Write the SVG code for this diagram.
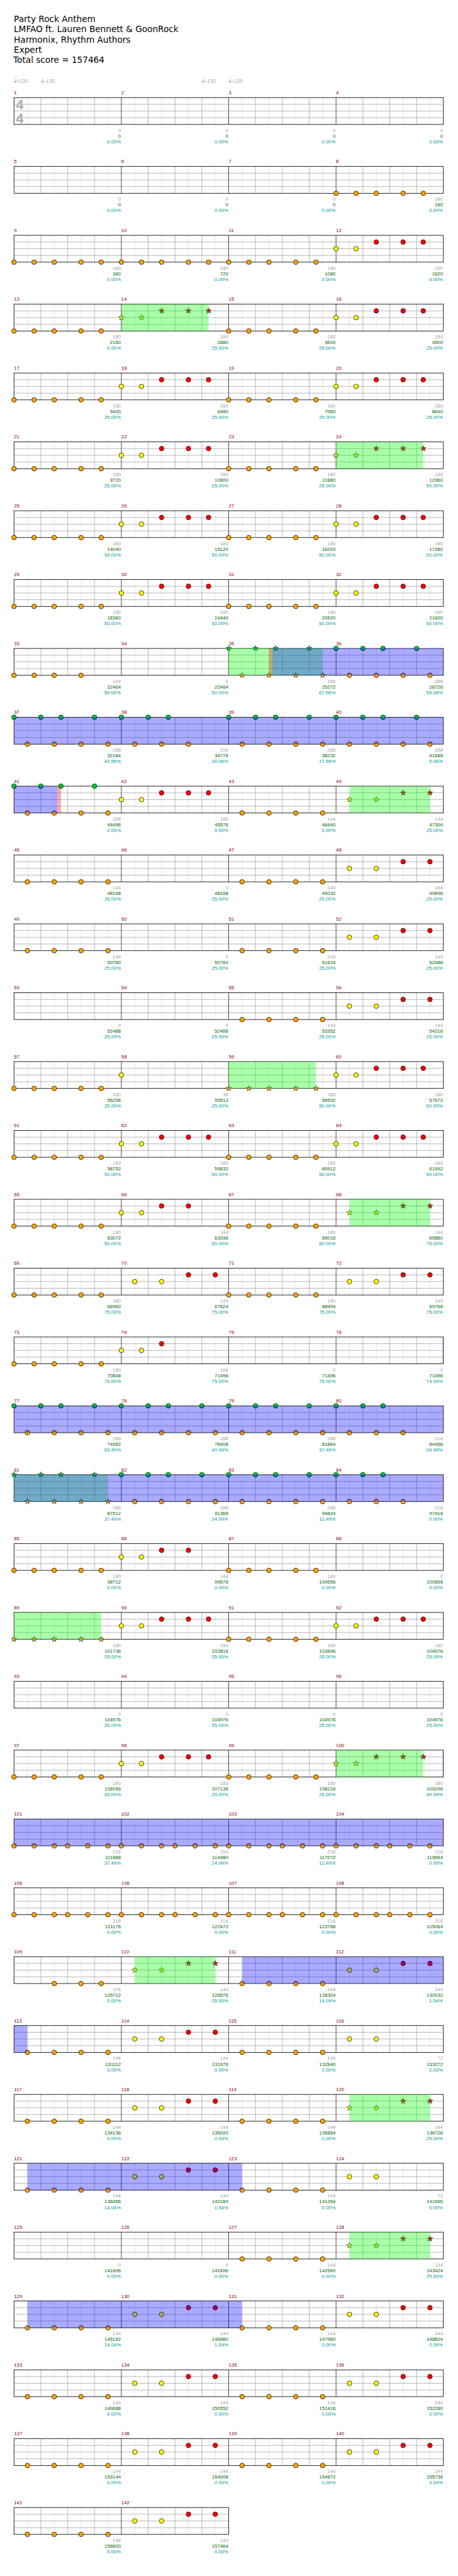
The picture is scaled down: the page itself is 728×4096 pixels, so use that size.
<svg xmlns="http://www.w3.org/2000/svg" xmlns:xlink="http://www.w3.org/1999/xlink" width="728" height="4096" viewBox="0 0 728 4096">
<style>
text{font-family:"Liberation Sans",Arial,sans-serif;font-size:11px}
.t{font-family:"DejaVu Sans",sans-serif;font-size:19.2px;fill:#000}
.mn{fill:#8b0000}
.a{fill:#a0a0a0;text-anchor:end}
.b{fill:#006400;text-anchor:end}
.c{fill:#009999;text-anchor:end}
.tm{fill:#aaa;font-size:11.5px}
.ts{fill:#aaa;font-size:30px;font-weight:bold}
.og{fill:#0f0;fill-opacity:.333}
.ob{fill:#00f;fill-opacity:.333}
.or{fill:#f00;fill-opacity:.333}
</style>
<defs>
<g id="m"><path d="M30,0V60M90,0V60M150,0V60M210,0V60" stroke="#ddd"/><path d="M0,15H240M0,30H240M0,45H240M60,0V60M120,0V60M180,0V60" stroke="#999"/></g>
<g id="s4"><use href="#m"/><use href="#m" x="240"/><use href="#m" x="480"/><use href="#m" x="720"/><path d="M240,0V60M480,0V60M720,0V60" stroke="#000"/><rect width="960" height="60" fill="none" stroke="#000" stroke-width="1.2"/></g>
<g id="s2"><use href="#m"/><use href="#m" x="240"/><path d="M240,0V60" stroke="#000"/><rect width="480" height="60" fill="none" stroke="#000" stroke-width="1.2"/></g>
<circle id="nk" r="5.2" fill="#ffa500" stroke="#000"/>
<circle id="ny" r="5.2" fill="#ffff00" stroke="#000"/>
<circle id="nr" r="5.2" fill="#ff0000" stroke="#000"/>
<circle id="ng" r="5.2" fill="#00cc33" stroke="#000"/>
<path id="st" d="M0,-6.5L1.53,-2.1 6.18,-2.01 2.47,0.8 3.82,5.26 0,2.6 -3.82,5.26 -2.47,0.8 -6.18,-2.01 -1.53,-2.1Z" stroke="#000" stroke-width="0.8"/>
<use id="sk" href="#st" fill="#ffa500"/>
<use id="sy" href="#st" fill="#ffff00"/>
<use id="sr" href="#st" fill="#ff0000"/>
<use id="sg" href="#st" fill="#00cc33"/>
<g id="pA"><use href="#nk" y="60"/><use href="#nk" x="45" y="60"/><use href="#nk" x="90" y="60"/><use href="#nk" x="150" y="60"/><use href="#nk" x="195" y="60"/></g>
<g id="pA4"><use href="#nk" y="60"/><use href="#nk" x="45" y="60"/><use href="#nk" x="90" y="60"/><use href="#nk" x="150" y="60"/></g>
<g id="pAs"><use href="#sk" y="60"/><use href="#sk" x="45" y="60"/><use href="#sk" x="90" y="60"/><use href="#sk" x="150" y="60"/><use href="#sk" x="195" y="60"/></g>
<g id="pB"><use href="#ny" y="30"/><use href="#ny" x="45" y="30"/><use href="#nr" x="90" y="15"/><use href="#nr" x="150" y="15"/><use href="#nr" x="195" y="15"/></g>
<g id="pB4"><use href="#ny" y="30"/><use href="#ny" x="45" y="30"/><use href="#nr" x="90" y="15"/><use href="#nr" x="150" y="15"/></g>
<g id="pB3"><use href="#ny" y="30"/><use href="#ny" x="45" y="30"/><use href="#nr" x="90" y="15"/></g>
<g id="pBs"><use href="#sy" y="30"/><use href="#sy" x="45" y="30"/><use href="#sr" x="90" y="15"/><use href="#sr" x="150" y="15"/><use href="#sr" x="195" y="15"/></g>
<g id="pC"><use href="#nk" x="30" y="60"/><use href="#nk" x="90" y="60"/><use href="#nk" x="150" y="60"/><use href="#nk" x="210" y="60"/></g>
<g id="pC3"><use href="#nk" x="90" y="60"/><use href="#nk" x="150" y="60"/><use href="#nk" x="195" y="60"/></g>
<g id="pD"><use href="#ny" x="30" y="30"/><use href="#ny" x="90" y="30"/><use href="#nr" x="150" y="15"/><use href="#nr" x="210" y="15"/></g>
<g id="pD2"><use href="#ny" x="30" y="30"/><use href="#ny" x="90" y="30"/></g>
<g id="pDs"><use href="#sy" x="30" y="30"/><use href="#sy" x="90" y="30"/><use href="#sr" x="150" y="15"/><use href="#sr" x="210" y="15"/></g>
<g id="pE"><use href="#nk" y="60"/><use href="#nk" x="45" y="60"/><use href="#nk" x="90" y="60"/><use href="#nk" x="120" y="60"/><use href="#nk" x="165" y="60"/><use href="#nk" x="210" y="60"/></g>
<g id="pF"><use href="#ng"/><use href="#ng" x="60"/><use href="#ng" x="105"/><use href="#ng" x="180"/><use href="#nk" x="30" y="60"/><use href="#nk" x="90" y="60"/><use href="#nk" x="150" y="60"/><use href="#nk" x="210" y="60"/></g>
<g id="pF3"><use href="#ng"/><use href="#ng" x="60"/><use href="#ng" x="105"/><use href="#nk" x="30" y="60"/><use href="#nk" x="90" y="60"/><use href="#nk" x="150" y="60"/></g>
<g id="pFs"><use href="#sg"/><use href="#sg" x="60"/><use href="#sg" x="105"/><use href="#sg" x="180"/><use href="#sk" x="30" y="60"/><use href="#sk" x="90" y="60"/><use href="#sk" x="150" y="60"/><use href="#sk" x="210" y="60"/></g>
<g id="tempo"><ellipse cx="2.4" cy="-35.4" rx="2.4" ry="1.8" fill="#aaa"/><path d="M4.4,-35.4V-44.5" stroke="#aaa"/><text class="tm" x="5" y="-33.2">=130</text></g>
</defs>
<rect width="728" height="4096" fill="#fff"/>
<g transform="scale(0.7109375)">
<g id="header">
<text class="t" x="31" y="49.3">Party Rock Anthem</text>
<text class="t" x="31" y="72">LMFAO ft. Lauren Bennett &amp; GoonRock</text>
<text class="t" x="31" y="95">Harmonix, Rhythm Authors</text>
<text class="t" x="31" y="118">Expert</text>
<text class="t" x="29.7" y="141">Total score = 157464</text>
</g>

<g id="r0" transform="translate(31.3,218.3)"><use href="#s4"/>
<text class="ts" x="4.7" y="26">4</text><text class="ts" x="4.7" y="57">4</text>
<use href="#tempo"/><use href="#tempo" x="60"/><use href="#tempo" x="420"/><use href="#tempo" x="480"/>
<text class="mn" y="-7.3"><tspan x="0">1</tspan><tspan x="240">2</tspan><tspan x="480">3</tspan><tspan x="720">4</tspan></text>
<text class="a" y="77"><tspan x="239">0</tspan><tspan x="479">0</tspan><tspan x="719">0</tspan><tspan x="959">0</tspan></text>
<text class="b" y="89.7"><tspan x="239">0</tspan><tspan x="479">0</tspan><tspan x="719">0</tspan><tspan x="959">0</tspan></text>
<text class="c" y="102.4"><tspan x="239">0.00%</tspan><tspan x="479">0.00%</tspan><tspan x="719">0.00%</tspan><tspan x="959">0.00%</tspan></text>
</g>

<g id="r1" transform="translate(31.3,372.3)"><use href="#s4"/>
<use href="#pA" x="720"/>
<text class="mn" y="-7.3"><tspan x="0">5</tspan><tspan x="240">6</tspan><tspan x="480">7</tspan><tspan x="720">8</tspan></text>
<text class="a" y="77"><tspan x="239">0</tspan><tspan x="479">0</tspan><tspan x="719">0</tspan><tspan x="959">180</tspan></text>
<text class="b" y="89.7"><tspan x="239">0</tspan><tspan x="479">0</tspan><tspan x="719">0</tspan><tspan x="959">180</tspan></text>
<text class="c" y="102.4"><tspan x="239">0.00%</tspan><tspan x="479">0.00%</tspan><tspan x="719">0.00%</tspan><tspan x="959">0.00%</tspan></text>
</g>

<g id="r2" transform="translate(31.3,526.3)"><use href="#s4"/>
<use href="#pA"/><use href="#pA" x="240"/><use href="#pA" x="480"/><use href="#pB" x="720"/>
<text class="mn" y="-7.3"><tspan x="0">9</tspan><tspan x="240">10</tspan><tspan x="480">11</tspan><tspan x="720">12</tspan></text>
<text class="a" y="77"><tspan x="239">180</tspan><tspan x="479">180</tspan><tspan x="719">180</tspan><tspan x="959">180</tspan></text>
<text class="b" y="89.7"><tspan x="239">360</tspan><tspan x="479">720</tspan><tspan x="719">1080</tspan><tspan x="959">1620</tspan></text>
<text class="c" y="102.4"><tspan x="239">0.00%</tspan><tspan x="479">0.00%</tspan><tspan x="719">0.00%</tspan><tspan x="959">0.00%</tspan></text>
</g>

<g id="r3" transform="translate(31.3,680.3)"><use href="#s4"/>
<use href="#pA"/><use href="#pBs" x="240"/><use href="#pA" x="480"/><use href="#pB" x="720"/>
<rect class="og" x="240" width="195" height="60"/>
<text class="mn" y="-7.3"><tspan x="0">13</tspan><tspan x="240">14</tspan><tspan x="480">15</tspan><tspan x="720">16</tspan></text>
<text class="a" y="77"><tspan x="239">180</tspan><tspan x="479">180</tspan><tspan x="719">180</tspan><tspan x="959">180</tspan></text>
<text class="b" y="89.7"><tspan x="239">2160</tspan><tspan x="479">2880</tspan><tspan x="719">3600</tspan><tspan x="959">4500</tspan></text>
<text class="c" y="102.4"><tspan x="239">0.00%</tspan><tspan x="479">25.00%</tspan><tspan x="719">25.00%</tspan><tspan x="959">25.00%</tspan></text>
</g>

<g id="r4" transform="translate(31.3,834.3)"><use href="#s4"/>
<use href="#pA"/><use href="#pB" x="240"/><use href="#pA" x="480"/><use href="#pB" x="720"/>
<text class="mn" y="-7.3"><tspan x="0">17</tspan><tspan x="240">18</tspan><tspan x="480">19</tspan><tspan x="720">20</tspan></text>
<text class="a" y="77"><tspan x="239">180</tspan><tspan x="479">180</tspan><tspan x="719">180</tspan><tspan x="959">180</tspan></text>
<text class="b" y="89.7"><tspan x="239">5400</tspan><tspan x="479">6480</tspan><tspan x="719">7560</tspan><tspan x="959">8640</tspan></text>
<text class="c" y="102.4"><tspan x="239">25.00%</tspan><tspan x="479">25.00%</tspan><tspan x="719">25.00%</tspan><tspan x="959">25.00%</tspan></text>
</g>

<g id="r5" transform="translate(31.3,988.3)"><use href="#s4"/>
<use href="#pA"/><use href="#pB" x="240"/><use href="#pA" x="480"/><use href="#pBs" x="720"/>
<rect class="og" x="720" width="195" height="60"/>
<text class="mn" y="-7.3"><tspan x="0">21</tspan><tspan x="240">22</tspan><tspan x="480">23</tspan><tspan x="720">24</tspan></text>
<text class="a" y="77"><tspan x="239">180</tspan><tspan x="479">180</tspan><tspan x="719">180</tspan><tspan x="959">180</tspan></text>
<text class="b" y="89.7"><tspan x="239">9720</tspan><tspan x="479">10800</tspan><tspan x="719">11880</tspan><tspan x="959">12960</tspan></text>
<text class="c" y="102.4"><tspan x="239">25.00%</tspan><tspan x="479">25.00%</tspan><tspan x="719">25.00%</tspan><tspan x="959">50.00%</tspan></text>
</g>

<g id="r6" transform="translate(31.3,1142.3)"><use href="#s4"/>
<use href="#pA"/><use href="#pB" x="240"/><use href="#pA" x="480"/><use href="#pB" x="720"/>
<text class="mn" y="-7.3"><tspan x="0">25</tspan><tspan x="240">26</tspan><tspan x="480">27</tspan><tspan x="720">28</tspan></text>
<text class="a" y="77"><tspan x="239">180</tspan><tspan x="479">180</tspan><tspan x="719">180</tspan><tspan x="959">180</tspan></text>
<text class="b" y="89.7"><tspan x="239">14040</tspan><tspan x="479">15120</tspan><tspan x="719">16200</tspan><tspan x="959">17280</tspan></text>
<text class="c" y="102.4"><tspan x="239">50.00%</tspan><tspan x="479">50.00%</tspan><tspan x="719">50.00%</tspan><tspan x="959">50.00%</tspan></text>
</g>

<g id="r7" transform="translate(31.3,1296.3)"><use href="#s4"/>
<use href="#pA"/><use href="#pB" x="240"/><use href="#pA" x="480"/><use href="#pB" x="720"/>
<text class="mn" y="-7.3"><tspan x="0">29</tspan><tspan x="240">30</tspan><tspan x="480">31</tspan><tspan x="720">32</tspan></text>
<text class="a" y="77"><tspan x="239">180</tspan><tspan x="479">180</tspan><tspan x="719">180</tspan><tspan x="959">180</tspan></text>
<text class="b" y="89.7"><tspan x="239">18360</tspan><tspan x="479">19440</tspan><tspan x="719">20520</tspan><tspan x="959">21600</tspan></text>
<text class="c" y="102.4"><tspan x="239">50.00%</tspan><tspan x="479">50.00%</tspan><tspan x="719">50.00%</tspan><tspan x="959">50.00%</tspan></text>
</g>

<g id="r8" transform="translate(31.3,1450.3)"><use href="#s4"/>
<use href="#pA4"/><use href="#pFs" x="480"/><use href="#pF" x="720"/>
<rect class="og" x="480" width="210" height="60"/><rect class="or" x="570" width="7.5" height="60"/><rect class="ob" x="577.5" width="382.5" height="60"/>
<text class="mn" y="-7.3"><tspan x="0">33</tspan><tspan x="240">34</tspan><tspan x="480">35</tspan><tspan x="720">36</tspan></text>
<text class="a" y="77"><tspan x="239">144</tspan><tspan x="479">0</tspan><tspan x="719">288</tspan><tspan x="959">288</tspan></text>
<text class="b" y="89.7"><tspan x="239">22464</tspan><tspan x="479">22464</tspan><tspan x="719">25272</tspan><tspan x="959">28728</tspan></text>
<text class="c" y="102.4"><tspan x="239">50.00%</tspan><tspan x="479">50.00%</tspan><tspan x="719">67.56%</tspan><tspan x="959">55.06%</tspan></text>
</g>

<g id="r9" transform="translate(31.3,1604.3)"><use href="#s4"/>
<use href="#pF"/><use href="#pF3" x="240"/><use href="#pF" x="480"/><use href="#pF" x="720"/>
<rect class="ob" width="960" height="60"/>
<text class="mn" y="-7.3"><tspan x="0">37</tspan><tspan x="240">38</tspan><tspan x="480">39</tspan><tspan x="720">40</tspan></text>
<text class="a" y="77"><tspan x="239">288</tspan><tspan x="479">216</tspan><tspan x="719">288</tspan><tspan x="959">288</tspan></text>
<text class="b" y="89.7"><tspan x="239">32184</tspan><tspan x="479">34776</tspan><tspan x="719">38232</tspan><tspan x="959">41688</tspan></text>
<text class="c" y="102.4"><tspan x="239">42.56%</tspan><tspan x="479">30.06%</tspan><tspan x="719">17.56%</tspan><tspan x="959">5.06%</tspan></text>
</g>

<g id="r10" transform="translate(31.3,1758.3)"><use href="#s4"/>
<use href="#pF"/><use href="#pB" x="240"/><use href="#pC" x="480"/><use href="#pDs" x="720"/>
<rect class="ob" width="97.5" height="60"/><rect class="or" x="97.5" width="7.5" height="60"/><rect class="og" x="750" width="180" height="60"/>
<text class="mn" y="-7.3"><tspan x="0">41</tspan><tspan x="240">42</tspan><tspan x="480">43</tspan><tspan x="720">44</tspan></text>
<text class="a" y="77"><tspan x="239">288</tspan><tspan x="479">180</tspan><tspan x="719">144</tspan><tspan x="959">144</tspan></text>
<text class="b" y="89.7"><tspan x="239">44496</tspan><tspan x="479">45576</tspan><tspan x="719">46440</tspan><tspan x="959">47304</tspan></text>
<text class="c" y="102.4"><tspan x="239">0.00%</tspan><tspan x="479">0.00%</tspan><tspan x="719">0.00%</tspan><tspan x="959">25.00%</tspan></text>
</g>

<g id="r11" transform="translate(31.3,1912.3)"><use href="#s4"/>
<use href="#pC"/><use href="#pC" x="480"/><use href="#pD" x="720"/>
<text class="mn" y="-7.3"><tspan x="0">45</tspan><tspan x="240">46</tspan><tspan x="480">47</tspan><tspan x="720">48</tspan></text>
<text class="a" y="77"><tspan x="239">144</tspan><tspan x="479">0</tspan><tspan x="719">144</tspan><tspan x="959">144</tspan></text>
<text class="b" y="89.7"><tspan x="239">48168</tspan><tspan x="479">48168</tspan><tspan x="719">49032</tspan><tspan x="959">49896</tspan></text>
<text class="c" y="102.4"><tspan x="239">25.00%</tspan><tspan x="479">25.00%</tspan><tspan x="719">25.00%</tspan><tspan x="959">25.00%</tspan></text>
</g>

<g id="r12" transform="translate(31.3,2066.3)"><use href="#s4"/>
<use href="#pC"/><use href="#pC" x="480"/><use href="#pD" x="720"/>
<text class="mn" y="-7.3"><tspan x="0">49</tspan><tspan x="240">50</tspan><tspan x="480">51</tspan><tspan x="720">52</tspan></text>
<text class="a" y="77"><tspan x="239">144</tspan><tspan x="479">0</tspan><tspan x="719">144</tspan><tspan x="959">144</tspan></text>
<text class="b" y="89.7"><tspan x="239">50760</tspan><tspan x="479">50760</tspan><tspan x="719">51624</tspan><tspan x="959">52488</tspan></text>
<text class="c" y="102.4"><tspan x="239">25.00%</tspan><tspan x="479">25.00%</tspan><tspan x="719">25.00%</tspan><tspan x="959">25.00%</tspan></text>
</g>

<g id="r13" transform="translate(31.3,2220.3)"><use href="#s4"/>
<use href="#pC" x="480"/><use href="#pD" x="720"/>
<text class="mn" y="-7.3"><tspan x="0">53</tspan><tspan x="240">54</tspan><tspan x="480">55</tspan><tspan x="720">56</tspan></text>
<text class="a" y="77"><tspan x="239">0</tspan><tspan x="479">0</tspan><tspan x="719">144</tspan><tspan x="959">144</tspan></text>
<text class="b" y="89.7"><tspan x="239">52488</tspan><tspan x="479">52488</tspan><tspan x="719">53352</tspan><tspan x="959">54216</tspan></text>
<text class="c" y="102.4"><tspan x="239">25.00%</tspan><tspan x="479">25.00%</tspan><tspan x="719">25.00%</tspan><tspan x="959">25.00%</tspan></text>
</g>

<g id="r14" transform="translate(31.3,2374.3)"><use href="#s4"/>
<use href="#pA"/><use href="#ny" x="240" y="30"/><use href="#pAs" x="480"/><use href="#pB" x="720"/>
<rect class="og" x="480" width="195" height="60"/>
<text class="mn" y="-7.3"><tspan x="0">57</tspan><tspan x="240">58</tspan><tspan x="480">59</tspan><tspan x="720">60</tspan></text>
<text class="a" y="77"><tspan x="239">180</tspan><tspan x="479">36</tspan><tspan x="719">180</tspan><tspan x="959">180</tspan></text>
<text class="b" y="89.7"><tspan x="239">55296</tspan><tspan x="479">55512</tspan><tspan x="719">56592</tspan><tspan x="959">57672</tspan></text>
<text class="c" y="102.4"><tspan x="239">25.00%</tspan><tspan x="479">25.00%</tspan><tspan x="719">50.00%</tspan><tspan x="959">50.00%</tspan></text>
</g>

<g id="r15" transform="translate(31.3,2528.3)"><use href="#s4"/>
<use href="#pA"/><use href="#pB" x="240"/><use href="#pA" x="480"/><use href="#pB" x="720"/>
<text class="mn" y="-7.3"><tspan x="0">61</tspan><tspan x="240">62</tspan><tspan x="480">63</tspan><tspan x="720">64</tspan></text>
<text class="a" y="77"><tspan x="239">180</tspan><tspan x="479">180</tspan><tspan x="719">180</tspan><tspan x="959">180</tspan></text>
<text class="b" y="89.7"><tspan x="239">58752</tspan><tspan x="479">59832</tspan><tspan x="719">60912</tspan><tspan x="959">61992</tspan></text>
<text class="c" y="102.4"><tspan x="239">50.00%</tspan><tspan x="479">50.00%</tspan><tspan x="719">50.00%</tspan><tspan x="959">50.00%</tspan></text>
</g>

<g id="r16" transform="translate(31.3,2682.3)"><use href="#s4"/>
<use href="#pA"/><use href="#pB4" x="240"/><use href="#pA" x="480"/><use href="#pDs" x="720"/>
<rect class="og" x="750" width="180" height="60"/>
<text class="mn" y="-7.3"><tspan x="0">65</tspan><tspan x="240">66</tspan><tspan x="480">67</tspan><tspan x="720">68</tspan></text>
<text class="a" y="77"><tspan x="239">180</tspan><tspan x="479">144</tspan><tspan x="719">180</tspan><tspan x="959">144</tspan></text>
<text class="b" y="89.7"><tspan x="239">63072</tspan><tspan x="479">63936</tspan><tspan x="719">65016</tspan><tspan x="959">65880</tspan></text>
<text class="c" y="102.4"><tspan x="239">50.00%</tspan><tspan x="479">50.00%</tspan><tspan x="719">50.00%</tspan><tspan x="959">75.00%</tspan></text>
</g>

<g id="r17" transform="translate(31.3,2836.3)"><use href="#s4"/>
<use href="#pA"/><use href="#pD" x="240"/><use href="#pA" x="480"/><use href="#pD" x="720"/>
<text class="mn" y="-7.3"><tspan x="0">69</tspan><tspan x="240">70</tspan><tspan x="480">71</tspan><tspan x="720">72</tspan></text>
<text class="a" y="77"><tspan x="239">180</tspan><tspan x="479">144</tspan><tspan x="719">180</tspan><tspan x="959">144</tspan></text>
<text class="b" y="89.7"><tspan x="239">66960</tspan><tspan x="479">67824</tspan><tspan x="719">68904</tspan><tspan x="959">69768</tspan></text>
<text class="c" y="102.4"><tspan x="239">75.00%</tspan><tspan x="479">75.00%</tspan><tspan x="719">75.00%</tspan><tspan x="959">75.00%</tspan></text>
</g>

<g id="r18" transform="translate(31.3,2990.3)"><use href="#s4"/>
<use href="#pA"/><use href="#pB3" x="240"/>
<rect class="ob" x="958.5" width="1.5" height="60"/>
<text class="mn" y="-7.3"><tspan x="0">73</tspan><tspan x="240">74</tspan><tspan x="480">75</tspan><tspan x="720">76</tspan></text>
<text class="a" y="77"><tspan x="239">180</tspan><tspan x="479">108</tspan><tspan x="719">0</tspan><tspan x="959">0</tspan></text>
<text class="b" y="89.7"><tspan x="239">70848</tspan><tspan x="479">71496</tspan><tspan x="719">71496</tspan><tspan x="959">71496</tspan></text>
<text class="c" y="102.4"><tspan x="239">75.00%</tspan><tspan x="479">75.00%</tspan><tspan x="719">75.00%</tspan><tspan x="959">74.99%</tspan></text>
</g>

<g id="r19" transform="translate(31.3,3144.3)"><use href="#s4"/>
<use href="#pF"/><use href="#pF" x="240"/><use href="#pF" x="480"/><use href="#pF3" x="720"/>
<rect class="ob" width="960" height="60"/>
<text class="mn" y="-7.3"><tspan x="0">77</tspan><tspan x="240">78</tspan><tspan x="480">79</tspan><tspan x="720">80</tspan></text>
<text class="a" y="77"><tspan x="239">288</tspan><tspan x="479">288</tspan><tspan x="719">288</tspan><tspan x="959">216</tspan></text>
<text class="b" y="89.7"><tspan x="239">74952</tspan><tspan x="479">78408</tspan><tspan x="719">81864</tspan><tspan x="959">84456</tspan></text>
<text class="c" y="102.4"><tspan x="239">62.49%</tspan><tspan x="479">49.99%</tspan><tspan x="719">37.49%</tspan><tspan x="959">24.99%</tspan></text>
</g>

<g id="r20" transform="translate(31.3,3298.3)"><use href="#s4"/>
<use href="#pFs"/><use href="#pF" x="240"/><use href="#pF" x="480"/><use href="#pF3" x="720"/>
<rect class="og" width="210" height="60"/><rect class="ob" width="960" height="60"/><rect class="or" x="958.5" width="1.5" height="60"/>
<text class="mn" y="-7.3"><tspan x="0">81</tspan><tspan x="240">82</tspan><tspan x="480">83</tspan><tspan x="720">84</tspan></text>
<text class="a" y="77"><tspan x="239">288</tspan><tspan x="479">288</tspan><tspan x="719">288</tspan><tspan x="959">216</tspan></text>
<text class="b" y="89.7"><tspan x="239">87912</tspan><tspan x="479">91368</tspan><tspan x="719">94824</tspan><tspan x="959">97416</tspan></text>
<text class="c" y="102.4"><tspan x="239">37.49%</tspan><tspan x="479">24.99%</tspan><tspan x="719">12.49%</tspan><tspan x="959">0.00%</tspan></text>
</g>

<g id="r21" transform="translate(31.3,3452.3)"><use href="#s4"/>
<use href="#pA"/><use href="#pB4" x="240"/><use href="#pA" x="480"/>
<text class="mn" y="-7.3"><tspan x="0">85</tspan><tspan x="240">86</tspan><tspan x="480">87</tspan><tspan x="720">88</tspan></text>
<text class="a" y="77"><tspan x="239">180</tspan><tspan x="479">144</tspan><tspan x="719">180</tspan><tspan x="959">0</tspan></text>
<text class="b" y="89.7"><tspan x="239">98712</tspan><tspan x="479">99576</tspan><tspan x="719">100656</tspan><tspan x="959">100656</tspan></text>
<text class="c" y="102.4"><tspan x="239">0.00%</tspan><tspan x="479">0.00%</tspan><tspan x="719">0.00%</tspan><tspan x="959">0.00%</tspan></text>
</g>

<g id="r22" transform="translate(31.3,3606.3)"><use href="#s4"/>
<use href="#pAs"/><use href="#pB" x="240"/><use href="#pA" x="480"/><use href="#pB" x="720"/>
<rect class="og" width="195" height="60"/>
<text class="mn" y="-7.3"><tspan x="0">89</tspan><tspan x="240">90</tspan><tspan x="480">91</tspan><tspan x="720">92</tspan></text>
<text class="a" y="77"><tspan x="239">180</tspan><tspan x="479">180</tspan><tspan x="719">180</tspan><tspan x="959">180</tspan></text>
<text class="b" y="89.7"><tspan x="239">101736</tspan><tspan x="479">102816</tspan><tspan x="719">103896</tspan><tspan x="959">104976</tspan></text>
<text class="c" y="102.4"><tspan x="239">25.00%</tspan><tspan x="479">25.00%</tspan><tspan x="719">25.00%</tspan><tspan x="959">25.00%</tspan></text>
</g>

<g id="r23" transform="translate(31.3,3760.3)"><use href="#s4"/>
<text class="mn" y="-7.3"><tspan x="0">93</tspan><tspan x="240">94</tspan><tspan x="480">95</tspan><tspan x="720">96</tspan></text>
<text class="a" y="77"><tspan x="239">0</tspan><tspan x="479">0</tspan><tspan x="719">0</tspan><tspan x="959">0</tspan></text>
<text class="b" y="89.7"><tspan x="239">104976</tspan><tspan x="479">104976</tspan><tspan x="719">104976</tspan><tspan x="959">104976</tspan></text>
<text class="c" y="102.4"><tspan x="239">25.00%</tspan><tspan x="479">25.00%</tspan><tspan x="719">25.00%</tspan><tspan x="959">25.00%</tspan></text>
</g>

<g id="r24" transform="translate(31.3,3914.3)"><use href="#s4"/>
<use href="#pA"/><use href="#pB" x="240"/><use href="#pA" x="480"/><use href="#pBs" x="720"/>
<rect class="og" x="720" width="195" height="60"/><rect class="ob" x="958.5" width="1.5" height="60"/>
<text class="mn" y="-7.3"><tspan x="0">97</tspan><tspan x="240">98</tspan><tspan x="480">99</tspan><tspan x="720">100</tspan></text>
<text class="a" y="77"><tspan x="239">180</tspan><tspan x="479">180</tspan><tspan x="719">180</tspan><tspan x="959">180</tspan></text>
<text class="b" y="89.7"><tspan x="239">106056</tspan><tspan x="479">107136</tspan><tspan x="719">108216</tspan><tspan x="959">109296</tspan></text>
<text class="c" y="102.4"><tspan x="239">25.00%</tspan><tspan x="479">25.00%</tspan><tspan x="719">25.00%</tspan><tspan x="959">49.99%</tspan></text>
</g>

<g id="r25" transform="translate(31.3,4068.3)"><use href="#s4"/>
<use href="#pE"/><use href="#pE" x="240"/><use href="#pE" x="480"/><use href="#pE" x="720"/>
<rect class="ob" width="960" height="60"/><rect class="or" x="958.5" width="1.5" height="60"/>
<text class="mn" y="-7.3"><tspan x="0">101</tspan><tspan x="240">102</tspan><tspan x="480">103</tspan><tspan x="720">104</tspan></text>
<text class="a" y="77"><tspan x="239">216</tspan><tspan x="479">216</tspan><tspan x="719">216</tspan><tspan x="959">216</tspan></text>
<text class="b" y="89.7"><tspan x="239">111888</tspan><tspan x="479">114480</tspan><tspan x="719">117072</tspan><tspan x="959">119664</tspan></text>
<text class="c" y="102.4"><tspan x="239">37.49%</tspan><tspan x="479">24.99%</tspan><tspan x="719">12.49%</tspan><tspan x="959">0.00%</tspan></text>
</g>

<g id="r26" transform="translate(31.3,4222.3)"><use href="#s4"/>
<use href="#pE"/><use href="#pE" x="240"/><use href="#pE" x="480"/><use href="#pE" x="720"/>
<text class="mn" y="-7.3"><tspan x="0">105</tspan><tspan x="240">106</tspan><tspan x="480">107</tspan><tspan x="720">108</tspan></text>
<text class="a" y="77"><tspan x="239">216</tspan><tspan x="479">216</tspan><tspan x="719">216</tspan><tspan x="959">216</tspan></text>
<text class="b" y="89.7"><tspan x="239">121176</tspan><tspan x="479">122472</tspan><tspan x="719">123768</tspan><tspan x="959">125064</tspan></text>
<text class="c" y="102.4"><tspan x="239">0.00%</tspan><tspan x="479">0.00%</tspan><tspan x="719">0.00%</tspan><tspan x="959">0.00%</tspan></text>
</g>

<g id="r27" transform="translate(31.3,4376.3)"><use href="#s4"/>
<use href="#pC3"/><use href="#pDs" x="240"/><use href="#pC" x="480"/><use href="#pD" x="720"/>
<rect class="og" x="270" width="180" height="60"/><rect class="ob" x="510" width="450" height="60"/>
<text class="mn" y="-7.3"><tspan x="0">109</tspan><tspan x="240">110</tspan><tspan x="480">111</tspan><tspan x="720">112</tspan></text>
<text class="a" y="77"><tspan x="239">108</tspan><tspan x="479">144</tspan><tspan x="719">144</tspan><tspan x="959">144</tspan></text>
<text class="b" y="89.7"><tspan x="239">125712</tspan><tspan x="479">126576</tspan><tspan x="719">128304</tspan><tspan x="959">130032</tspan></text>
<text class="c" y="102.4"><tspan x="239">0.00%</tspan><tspan x="479">25.00%</tspan><tspan x="719">14.04%</tspan><tspan x="959">1.54%</tspan></text>
</g>

<g id="r28" transform="translate(31.3,4530.3)"><use href="#s4"/>
<use href="#pC"/><use href="#pD" x="240"/><use href="#pC" x="480"/><use href="#pD2" x="720"/>
<rect class="ob" width="30" height="60"/>
<text class="mn" y="-7.3"><tspan x="0">113</tspan><tspan x="240">114</tspan><tspan x="480">115</tspan><tspan x="720">116</tspan></text>
<text class="a" y="77"><tspan x="239">144</tspan><tspan x="479">144</tspan><tspan x="719">144</tspan><tspan x="959">72</tspan></text>
<text class="b" y="89.7"><tspan x="239">131112</tspan><tspan x="479">131976</tspan><tspan x="719">132840</tspan><tspan x="959">133272</tspan></text>
<text class="c" y="102.4"><tspan x="239">0.00%</tspan><tspan x="479">0.00%</tspan><tspan x="719">0.00%</tspan><tspan x="959">0.00%</tspan></text>
</g>

<g id="r29" transform="translate(31.3,4684.3)"><use href="#s4"/>
<use href="#pC"/><use href="#pD" x="240"/><use href="#pC" x="480"/><use href="#pDs" x="720"/>
<rect class="og" x="750" width="180" height="60"/>
<text class="mn" y="-7.3"><tspan x="0">117</tspan><tspan x="240">118</tspan><tspan x="480">119</tspan><tspan x="720">120</tspan></text>
<text class="a" y="77"><tspan x="239">144</tspan><tspan x="479">144</tspan><tspan x="719">144</tspan><tspan x="959">144</tspan></text>
<text class="b" y="89.7"><tspan x="239">134136</tspan><tspan x="479">135000</tspan><tspan x="719">135864</tspan><tspan x="959">136728</tspan></text>
<text class="c" y="102.4"><tspan x="239">0.00%</tspan><tspan x="479">0.00%</tspan><tspan x="719">0.00%</tspan><tspan x="959">25.00%</tspan></text>
</g>

<g id="r30" transform="translate(31.3,4838.3)"><use href="#s4"/>
<use href="#pC"/><use href="#pD" x="240"/><use href="#pC" x="480"/><use href="#pD2" x="720"/>
<rect class="ob" x="30" width="480" height="60"/>
<text class="mn" y="-7.3"><tspan x="0">121</tspan><tspan x="240">122</tspan><tspan x="480">123</tspan><tspan x="720">124</tspan></text>
<text class="a" y="77"><tspan x="239">144</tspan><tspan x="479">144</tspan><tspan x="719">144</tspan><tspan x="959">72</tspan></text>
<text class="b" y="89.7"><tspan x="239">138456</tspan><tspan x="479">140184</tspan><tspan x="719">141264</tspan><tspan x="959">141696</tspan></text>
<text class="c" y="102.4"><tspan x="239">14.04%</tspan><tspan x="479">1.54%</tspan><tspan x="719">0.00%</tspan><tspan x="959">0.00%</tspan></text>
</g>

<g id="r31" transform="translate(31.3,4992.3)"><use href="#s4"/>
<use href="#pC" x="480"/><use href="#pDs" x="720"/>
<rect class="og" x="750" width="180" height="60"/>
<text class="mn" y="-7.3"><tspan x="0">125</tspan><tspan x="240">126</tspan><tspan x="480">127</tspan><tspan x="720">128</tspan></text>
<text class="a" y="77"><tspan x="239">0</tspan><tspan x="479">0</tspan><tspan x="719">144</tspan><tspan x="959">144</tspan></text>
<text class="b" y="89.7"><tspan x="239">141696</tspan><tspan x="479">141696</tspan><tspan x="719">142560</tspan><tspan x="959">143424</tspan></text>
<text class="c" y="102.4"><tspan x="239">0.00%</tspan><tspan x="479">0.00%</tspan><tspan x="719">0.00%</tspan><tspan x="959">25.00%</tspan></text>
</g>

<g id="r32" transform="translate(31.3,5146.3)"><use href="#s4"/>
<use href="#pC"/><use href="#pD" x="240"/><use href="#pC" x="480"/><use href="#pD" x="720"/>
<rect class="ob" x="30" width="480" height="60"/>
<text class="mn" y="-7.3"><tspan x="0">129</tspan><tspan x="240">130</tspan><tspan x="480">131</tspan><tspan x="720">132</tspan></text>
<text class="a" y="77"><tspan x="239">144</tspan><tspan x="479">144</tspan><tspan x="719">144</tspan><tspan x="959">144</tspan></text>
<text class="b" y="89.7"><tspan x="239">145152</tspan><tspan x="479">146880</tspan><tspan x="719">147960</tspan><tspan x="959">148824</tspan></text>
<text class="c" y="102.4"><tspan x="239">14.04%</tspan><tspan x="479">1.54%</tspan><tspan x="719">0.00%</tspan><tspan x="959">0.00%</tspan></text>
</g>

<g id="r33" transform="translate(31.3,5300.3)"><use href="#s4"/>
<use href="#pC"/><use href="#pD" x="240"/><use href="#pC" x="480"/><use href="#pD" x="720"/>
<text class="mn" y="-7.3"><tspan x="0">133</tspan><tspan x="240">134</tspan><tspan x="480">135</tspan><tspan x="720">136</tspan></text>
<text class="a" y="77"><tspan x="239">144</tspan><tspan x="479">144</tspan><tspan x="719">144</tspan><tspan x="959">144</tspan></text>
<text class="b" y="89.7"><tspan x="239">149688</tspan><tspan x="479">150552</tspan><tspan x="719">151416</tspan><tspan x="959">152280</tspan></text>
<text class="c" y="102.4"><tspan x="239">0.00%</tspan><tspan x="479">0.00%</tspan><tspan x="719">0.00%</tspan><tspan x="959">0.00%</tspan></text>
</g>

<g id="r34" transform="translate(31.3,5454.3)"><use href="#s4"/>
<use href="#pC"/><use href="#pD" x="240"/><use href="#pC" x="480"/><use href="#pD" x="720"/>
<text class="mn" y="-7.3"><tspan x="0">137</tspan><tspan x="240">138</tspan><tspan x="480">139</tspan><tspan x="720">140</tspan></text>
<text class="a" y="77"><tspan x="239">144</tspan><tspan x="479">144</tspan><tspan x="719">144</tspan><tspan x="959">144</tspan></text>
<text class="b" y="89.7"><tspan x="239">153144</tspan><tspan x="479">154008</tspan><tspan x="719">154872</tspan><tspan x="959">155736</tspan></text>
<text class="c" y="102.4"><tspan x="239">0.00%</tspan><tspan x="479">0.00%</tspan><tspan x="719">0.00%</tspan><tspan x="959">0.00%</tspan></text>
</g>

<g id="r35" transform="translate(31.3,5608.3)"><use href="#s2"/>
<use href="#pC"/><use href="#pD" x="240"/>
<text class="mn" y="-7.3"><tspan x="0">141</tspan><tspan x="240">142</tspan></text>
<text class="a" y="77"><tspan x="239">144</tspan><tspan x="479">144</tspan></text>
<text class="b" y="89.7"><tspan x="239">156600</tspan><tspan x="479">157464</tspan></text>
<text class="c" y="102.4"><tspan x="239">0.00%</tspan><tspan x="479">0.00%</tspan></text>
</g>
</g>
</svg>
